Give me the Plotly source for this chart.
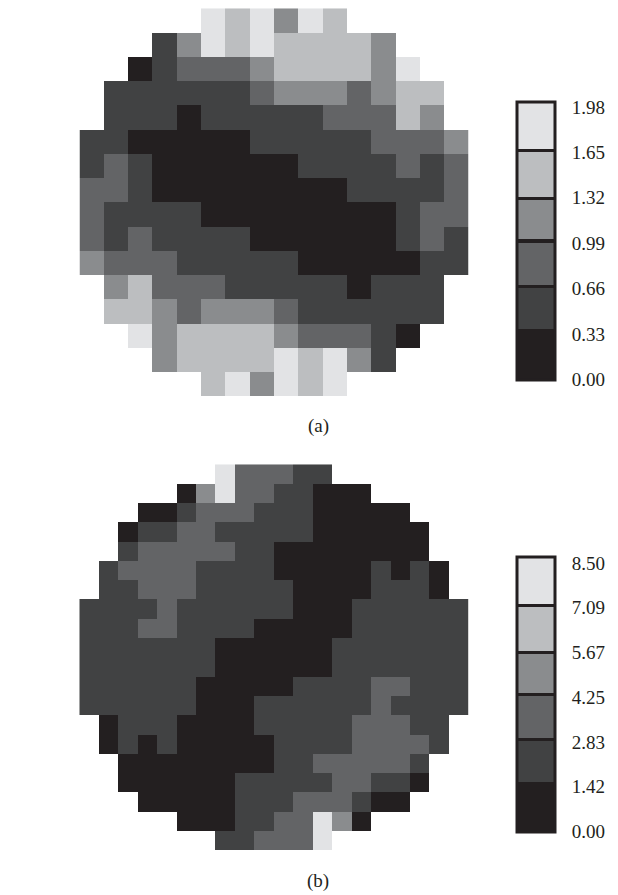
import plotly.graph_objects as go

W, H = 618, 895

# grey level of each cell, one character per cell, "." = outside the disc
levels_a = [
    ".....545354.....",
    "...1354544443...",
    "..012223444435..",
    ".11111123332344.",
    ".11101111122243.",
    "1100000111112223",
    "1210000001111212",
    "2210000000011112",
    "2111100000000122",
    "2121111000000121",
    "3222111110000011",
    ".34222111110111.",
    ".44323332111111.",
    "..534444322210..",
    "...3444454531...",
    ".....453545.....",
]
levels_b = [
    ".......522211.......",
    ".....0352211000.....",
    "...00122211100000...",
    "..0112211111000000..",
    "..1222221100000000..",
    ".122221111000001010.",
    ".112221111100001110.",
    "11112111111000111111",
    "11122111100000111111",
    "11111110000001111111",
    "11111110000001111111",
    "11111100000111122111",
    "11111100011111121111",
    ".011100001111122211.",
    ".010100000111122221.",
    "..0000000011222221..",
    "..0000001111122110..",
    "...00000111222100...",
    ".....0001122530.....",
    ".......112225.......",
]

# value at the edge of every grey band of each colour bar
edges_a = [0.00, 0.373, 0.68, 1.01, 1.316, 1.665, 2.02]
edges_b = [0.00, 1.58, 2.94, 4.36, 5.68, 7.175, 8.70]
ticks_a = [0.00, 0.33, 0.66, 0.99, 1.32, 1.65, 1.98]
ticks_b = [0.00, 1.42, 2.83, 4.25, 5.67, 7.09, 8.50]
greys = ["#231f20", "#414243", "#636466", "#8a8c8e", "#bcbec0", "#e2e3e5"]
SEP = "#231f20"
FONT = "Liberation Serif"


def to_values(rows, edges):
    mids = [(edges[i] + edges[i + 1]) / 2 for i in range(6)]
    return [[None if c == "." else mids[int(c)] for c in r] for r in rows]


def scale(edges, sep_px, bar_px):
    top = edges[-1]
    half = top * sep_px / bar_px / 2
    out = []
    for i, g in enumerate(greys):
        lo, hi = edges[i] / top, edges[i + 1] / top
        if i > 1:
            out.append([lo, SEP])
            out.append([lo + half / top, SEP])
            out.append([lo + half / top, g])
        else:
            out.append([lo, g])
        if 0 < i < 5:
            out.append([hi - half / top, g])
            out.append([hi - half / top, SEP])
        else:
            out.append([hi, g])
    return out


def panel(fig, rows, edges, ticks, box, bar_top, bar_bot, xa, ya):
    x0, x1, y0, y1 = box
    n = len(rows)
    z = to_values(rows, edges)
    bar_px = bar_bot - bar_top
    fig.add_trace(go.Heatmap(
        z=z, xaxis=xa, yaxis=ya, zmin=edges[0], zmax=edges[-1],
        colorscale=scale(edges, 3, bar_px), hoverongaps=False,
        colorbar=dict(
            x=516.5 / W, xanchor="left", xpad=0, ypad=0,
            y=1 - bar_bot / H, yanchor="bottom",
            lenmode="pixels", len=bar_px,
            thicknessmode="pixels", thickness=38,
            outlinewidth=3, outlinecolor=SEP, borderwidth=0,
            tickmode="array", tickvals=ticks,
            ticktext=[f"{t:.2f}" for t in ticks],
            ticks="outside", ticklen=12, tickcolor="rgba(0,0,0,0)",
            tickfont=dict(family=FONT, size=19, color="#231f20"),
        ),
    ))
    ax = dict(visible=False, showgrid=False, zeroline=False, fixedrange=True)
    fig.update_layout({
        xa.replace("x", "xaxis"): dict(ax, domain=[x0 / W, x1 / W], range=[-0.5, n - 0.5], anchor=ya),
        ya.replace("y", "yaxis"): dict(ax, domain=[1 - y1 / H, 1 - y0 / H], range=[n - 0.5, -0.5], anchor=xa),
    })


fig = go.Figure()
panel(fig, levels_a, edges_a, ticks_a, (79.5, 468.5, 8.3, 396), 101.7, 379.5, "x", "y")
panel(fig, levels_b, edges_b, ticks_b, (79.3, 468.7, 464.3, 850), 556.7, 831.7, "x2", "y2")

for txt, yp in (("(a)", 425.5), ("(b)", 881)):
    fig.add_annotation(text=txt, x=318 / W, y=1 - yp / H, xref="paper", yref="paper",
                       showarrow=False, xanchor="center", yanchor="middle",
                       font=dict(family=FONT, size=19, color="#231f20"))

fig.update_layout(width=W, height=H, margin=dict(l=0, r=0, t=0, b=0), autosize=False,
                  paper_bgcolor="white", plot_bgcolor="white", showlegend=False)
fig.write_html("out.html", config={"displayModeBar": False},
               post_script="document.body.style.margin='0';document.documentElement.style.overflow='hidden';")
